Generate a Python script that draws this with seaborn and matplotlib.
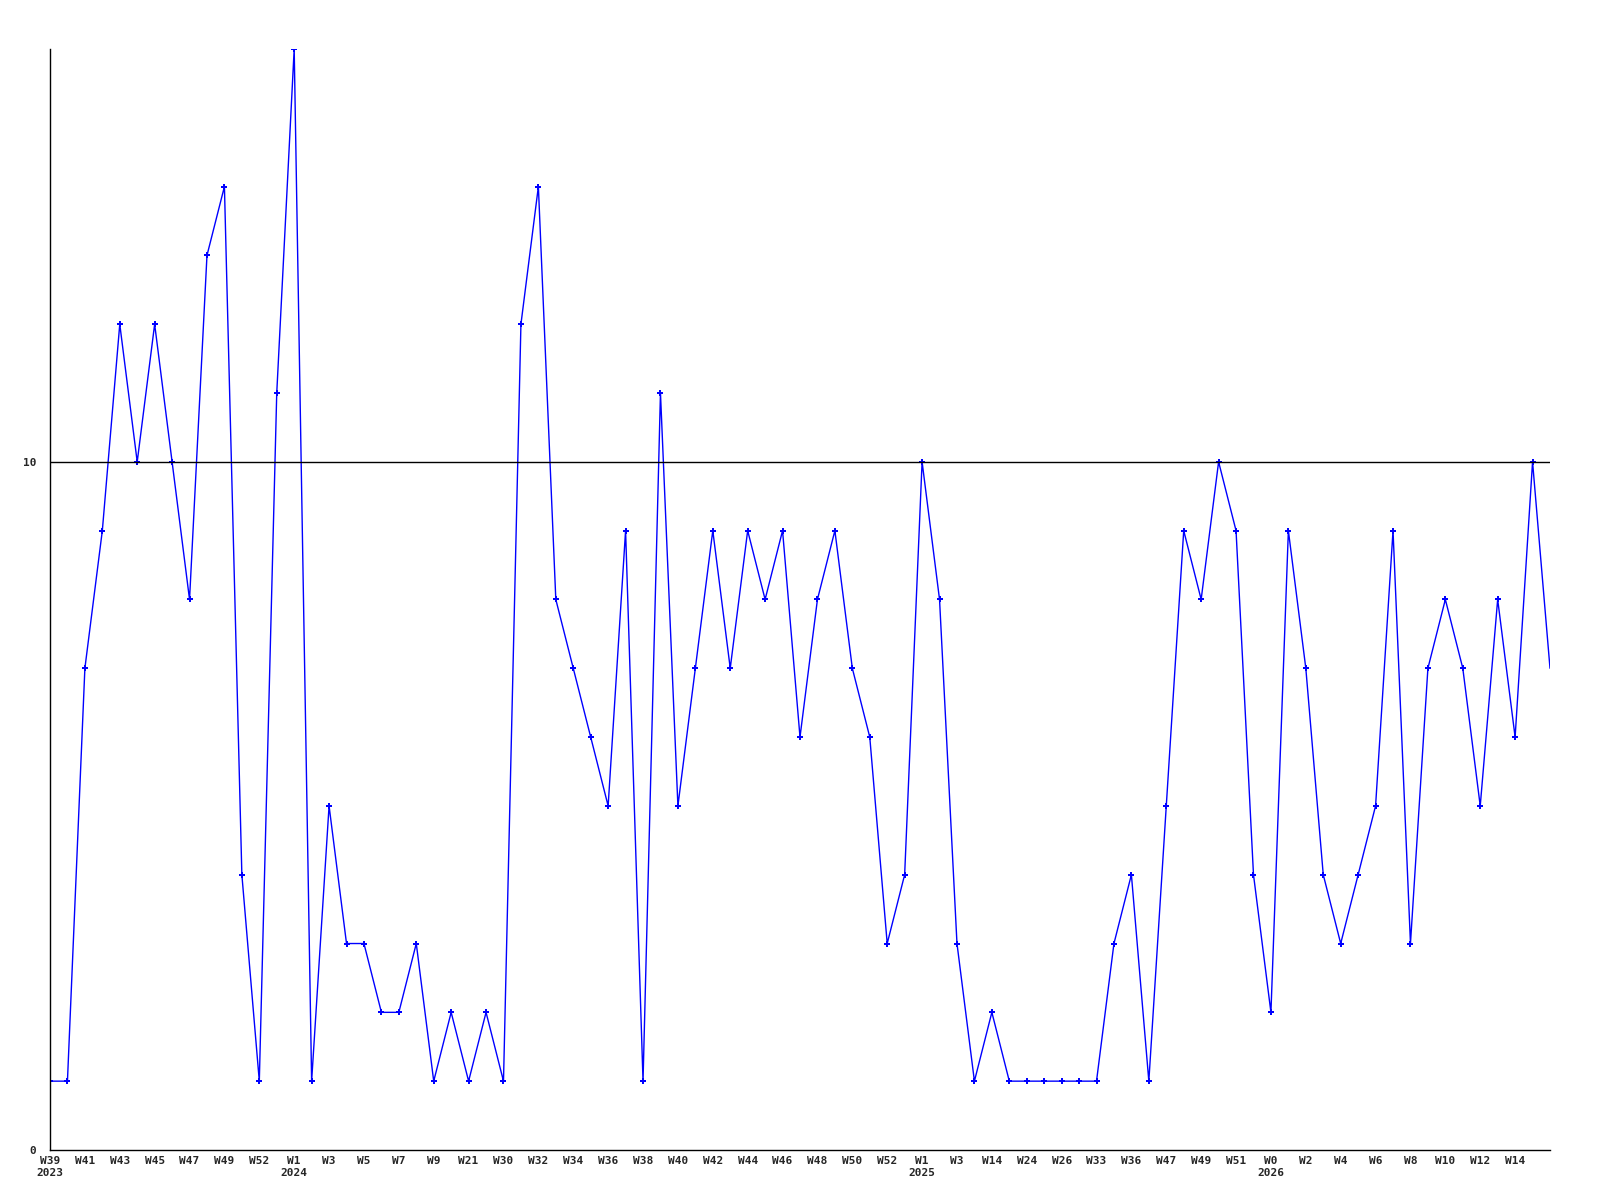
import pandas as pd
import matplotlib
matplotlib.use("Agg")
import matplotlib.pyplot as plt
import seaborn as sns

# weekly counts
weeks = ["W39", "W40", "W41", "W42", "W43", "W44", "W45", "W46", "W47", "W48",
         "W49", "W51", "W52", "W53", "W1", "W2", "W3", "W4", "W5", "W6",
         "W7", "W8", "W9", "W10", "W21", "W29", "W30", "W31", "W32", "W33",
         "W34", "W35", "W36", "W37", "W38", "W39", "W40", "W41", "W42", "W43",
         "W44", "W45", "W46", "W47", "W48", "W49", "W50", "W51", "W52", "W0",
         "W1", "W2", "W3", "W13", "W14", "W23", "W24", "W25", "W26", "W32",
         "W33", "W35", "W36", "W46", "W47", "W48", "W49", "W50", "W51", "W52",
         "W0", "W1", "W2", "W3", "W4", "W5", "W6", "W7", "W8", "W9",
         "W10", "W11", "W12", "W13", "W14", "W15", "W16"]
values = [1, 1, 7, 9, 12, 10, 12, 10, 8, 13,
          14, 4, 1, 11, 16, 1, 5, 3, 3, 2,
          2, 3, 1, 2, 1, 2, 1, 12, 14, 8,
          7, 6, 5, 9, 1, 11, 5, 7, 9, 7,
          9, 8, 9, 6, 8, 9, 7, 6, 3, 4,
          10, 8, 3, 1, 2, 1, 1, 1, 1, 1,
          1, 3, 4, 1, 5, 9, 8, 10, 9, 4,
          2, 9, 7, 4, 3, 4, 5, 9, 3, 7,
          8, 7, 5, 8, 6, 10, 7]
years = {0: "2023", 14: "2024", 50: "2025", 70: "2026"}

df = pd.DataFrame({"i": range(len(values)), "n": values})

sns.set_style("white")
plt.rcParams["font.family"] = ["DejaVu Sans Mono"]

fig = plt.figure(figsize=(16, 12), dpi=100)
ax = fig.add_axes([0.03125, 0.0417, 0.9375, 0.9175])

sns.lineplot(data=df, x="i", y="n", ax=ax, color="#0000ff", lw=1,
             marker="P", markersize=4, markeredgewidth=0,
             markevery=list(range(len(values) - 1)))
ax.axhline(10, color="black", lw=1)

ax.set_xlim(0, len(values) - 1)
ax.set_ylim(0, 16)
ax.set_yticks([0, 10])
ax.set_yticklabels(["0", "10"], fontsize=8, fontweight="bold")

labels = []
for i, w in enumerate(weeks):
    if i % 2 or i == len(weeks) - 1:
        labels.append("")
    else:
        labels.append(w + ("\n" + years[i] if i in years else ""))
ax.set_xticks(range(len(weeks)))
ax.set_xticklabels(labels, fontsize=8, fontweight="bold", linespacing=1.3)
ax.tick_params(length=0, pad=4)
ax.tick_params(axis="y", pad=10)
ax.set_xlabel("")
ax.set_ylabel("")

for s in ["top", "right"]:
    ax.spines[s].set_visible(False)
for s in ["left", "bottom"]:
    ax.spines[s].set_color("black")
    ax.spines[s].set_linewidth(1)

fig.savefig("out.png", dpi=100)
